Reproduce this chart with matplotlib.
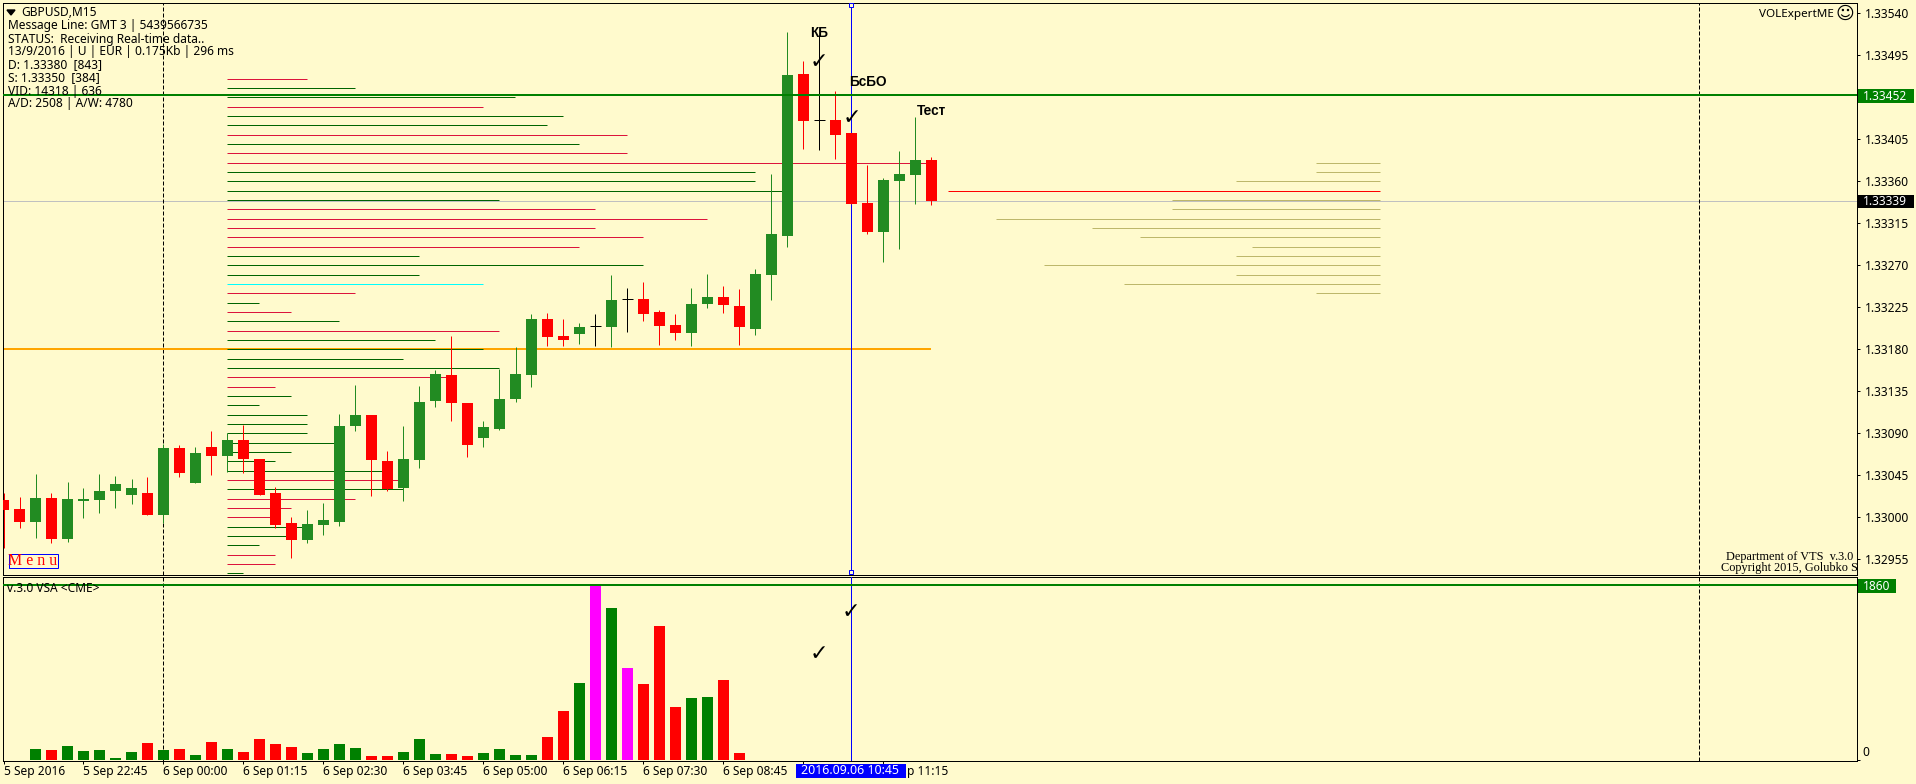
import matplotlib
matplotlib.use("Agg")
import matplotlib.pyplot as plt
from matplotlib.patches import Rectangle, Polygon

W, H = 1916, 784
BG = "#FFFACD"
UI = "Noto Sans"

# ---- candles (M15 GBPUSD), oldest first
opens = [1.33019,1.33009,1.32995,1.33021,1.32977,1.33018,1.33019,1.33028,1.33024,1.33026,
         1.33003,1.33074,1.33037,1.33075,1.33066,1.33083,1.33063,1.33026,1.32994,1.32976,
         1.32992,1.32995,1.33098,1.33110,1.33060,1.33031,1.33061,1.33125,1.33153,1.33123,
         1.33085,1.33095,1.33127,1.33152,1.33212,1.33194,1.33196,1.33205,1.33204,1.33234,
         1.33234,1.33220,1.33206,1.33197,1.33229,1.33236,1.33226,1.33202,1.33260,1.33301,
         1.33475,1.33426,1.33426,1.33412,1.33337,1.33306,1.33360,1.33367,1.33383]
closes = [1.33008,1.32995,1.33021,1.32977,1.33020,1.33020,1.33028,1.33036,1.33031,1.33003,
          1.33074,1.33047,1.33069,1.33066,1.33083,1.33062,1.33024,1.32992,1.32976,1.32993,
          1.32997,1.33098,1.33110,1.33061,1.33030,1.33062,1.33124,1.33154,1.33123,1.33078,
          1.33097,1.33127,1.33154,1.33213,1.33193,1.33190,1.33204,1.33205,1.33233,1.33234,
          1.33218,1.33205,1.33198,1.33229,1.33236,1.33227,1.33204,1.33261,1.33304,1.33474,
          1.33425,1.33426,1.33410,1.33336,1.33306,1.33361,1.33368,1.33383,1.33339]
highs = [1.33026,1.33022,1.33046,1.33026,1.33038,1.33031,1.33046,1.33044,1.33041,1.33043,
         1.33079,1.33077,1.33075,1.33092,1.33090,1.33099,1.33063,1.33032,1.33000,1.33008,
         1.33015,1.33111,1.33142,1.33110,1.33071,1.33098,1.33141,1.33158,1.33194,1.33123,
         1.33103,1.33159,1.33183,1.33218,1.33219,1.33212,1.33208,1.33218,1.33260,1.33246,
         1.33252,1.33222,1.33218,1.33246,1.33261,1.33248,1.33245,1.33266,1.33368,1.33520,
         1.33489,1.33517,1.33457,1.33412,1.33378,1.33364,1.33393,1.33429,1.33386]
lows = [1.32967,1.32989,1.32978,1.32973,1.32974,1.32999,1.33005,1.33010,1.33014,1.33002,
        1.32994,1.33043,1.33037,1.33045,1.33049,1.33048,1.33024,1.32989,1.32956,1.32972,
        1.32981,1.32991,1.33092,1.33023,1.33028,1.33017,1.33053,1.33118,1.33103,1.33065,
        1.33075,1.33094,1.33124,1.33140,1.33184,1.33184,1.33186,1.33184,1.33183,1.33199,
        1.33210,1.33185,1.33190,1.33184,1.33224,1.33219,1.33185,1.33195,1.33233,1.33290,
        1.33395,1.33394,1.33384,1.33336,1.33304,1.33274,1.33288,1.33336,1.33335]

# ---- volume pane (starts at bar 2)
volumes = [110,100,142,89,100,14,78,174,100,110,46,185,110,78,217,164,132,68,110,164,121,
           36,36,78,217,57,57,36,68,110,46,46,238,516,815,1860,1615,975,804,1423,558,654,665,847,68]
vol_colors = ["g","r","g","g","g","g","g","r","g","r","g","r","g","r","r","r","r","g","g","g","g",
              "r","r","g","g","g","r","r","g","g","g","g","r","r","g","m","g","m","r","r","r","g","g","r","r"]

# ---- left volume profile: price level, length in bars, colour
prof_prices = [1.33470,1.33460,1.33450,1.33440,1.33430,1.33420,1.33410,1.33400,1.33390,1.33380,
               1.33370,1.33360,1.33350,1.33340,1.33330,1.33320,1.33310,1.33300,1.33290,1.33280,
               1.33270,1.33260,1.33250,1.33240,1.33230,1.33220,1.33210,1.33200,1.33190,1.33180,
               1.33170,1.33160,1.33150,1.33140,1.33130,1.33120,1.33110,1.33100,1.33090,1.33080,
               1.33070,1.33060,1.33050,1.33040,1.33030,1.33020,1.33010,1.33000,1.32990,1.32980,
               1.32970,1.32960,1.32950,1.32940]
prof_len = [5,8,18,16,21,20,25,22,25,44,33,33,35,17,23,30,23,26,22,12,26,12,16,8,
            2,4,7,17,13,16,11,17,14,3,4,2,5,5,5,7,4,3,10,11,11,8,4,3,5,4,2,3,3,1]
prof_col = ["r","g","g","r","g","g","r","g","r","r","g","g","g","g","r","r","r","r","r","g","g","g","c","r",
            "g","r","g","r","g","g","g","g","r","r","g","g","g","g","g","g","g","g","g","r","g","r","r","r","g","g","g","r","r","g"]

# ---- right profile
rprof_prices = [1.33380,1.33370,1.33360,1.33350,1.33340,1.33330,1.33320,1.33310,
                1.33300,1.33290,1.33280,1.33270,1.33260,1.33250,1.33240]
rprof_len = [4,4,9,27,13,13,24,18,15,8,9,21,9,16,4]
rprof_col = ["k","k","k","R","k","k","k","k","k","k","k","k","k","k","k"]

price_ticks = [1.33540,1.33495,1.33450,1.33405,1.33360,1.33315,1.33270,1.33225,1.33180,
               1.33135,1.33090,1.33045,1.33000,1.32955]
price_labels = ["1.33540","1.33495","","1.33405","1.33360","1.33315","1.33270","1.33225","1.33180",
                "1.33135","1.33090","1.33045","1.33000","1.32955"]
time_labels = ["5 Sep 2016","5 Sep 22:45","6 Sep 00:00","6 Sep 01:15","6 Sep 02:30","6 Sep 03:45",
               "6 Sep 05:00","6 Sep 06:15","6 Sep 07:30","6 Sep 08:45","",""]
info_lines = ["Message Line: GMT 3 | 5439566735","STATUS:  Receiving Real-time data..",
              "13/9/2016 | U | EUR | 0.175Kb | 296 ms","D: 1.33380  [843]","S: 1.33350  [384]",
              "VID: 14318 | 636","A/D: 2508 | A/W: 4780"]
resistance, current, support, vol_level = 1.33452, 1.33339, 1.33180, 1860
selected_bar = 53
dashed_bars = [10, 106]

PROF = {"r": "#DC143C", "g": "#006400", "c": "#00FFFF"}
RP = {"k": "#BDB76B", "R": "#FF0000"}
VC = {"r": "#FF0000", "g": "#008000", "m": "#FF00FF"}
UP, DOWN = "#228B22", "#FF0000"
LW = 0.72  # one screen pixel

fig = plt.figure(figsize=(W/100, H/100), dpi=100, facecolor=BG)
def box(l, t, r, b):
    return [l/W, 1-b/H, (r-l)/W, (b-t)/H]
L, Rgt = 2.5, 1856.5
ax = fig.add_axes(box(L, 2.5, Rgt, 574.5), facecolor=BG)
sub = fig.add_axes(box(L, 576.5, Rgt, 760.5), facecolor=BG)
xlim = ((L-3.5)/16, (Rgt-3.5)/16)
ax.set_xlim(*xlim); sub.set_xlim(*xlim)
PER_PX = 1.0714e-5      # price per pixel
Y0 = 13.35              # pixel row of the 1.33540 tick
ax.set_ylim(1.33540-(574.5-Y0)*PER_PX, 1.33540+(Y0-2.5)*PER_PX)
VOL_PER_PX = 1/0.0937
sub.set_ylim(-1*VOL_PER_PX, (759.5-576.5)*VOL_PER_PX)
for a in (ax, sub):
    for s in a.spines.values():
        s.set_linewidth(LW); s.set_color("black")

# profiles beneath the candles
ax.hlines(prof_prices, 13.97, [13.97+v for v in prof_len], colors=[PROF[c] for c in prof_col],
          linewidth=LW, zorder=2, snap=True)
rend = 86.03
ax.hlines(rprof_prices, [rend-v for v in rprof_len], rend, colors=[RP[c] for c in rprof_col],
          linewidth=LW, zorder=2, snap=True)

# reference lines
ax.axhline(current, color="#C0C0C0", linewidth=LW, zorder=1.5, snap=True)
ax.hlines(support, 0, 57.95, color="#FFA500", linewidth=1.44, zorder=1.8, snap=True)
ax.axhline(resistance, color="#008000", linewidth=1.44, zorder=6, snap=True)
sub.axhline(vol_level, color="#008000", linewidth=1.44, zorder=6, snap=True)
for a in (ax, sub):
    a.axvline(selected_bar, color="#0000FF", linewidth=LW, zorder=3, snap=True)
    for d in dashed_bars:
        a.axvline(d, color="black", linewidth=LW, linestyle=(0, (4, 2)), zorder=1.7, snap=True)

# candles
bars = range(len(opens))
for i, o, h, l, c in zip(bars, opens, highs, lows, closes):
    col = UP if c > o else DOWN if c < o else "black"
    ax.vlines(i, l, h, color=col, linewidth=LW, zorder=4, snap=True)
    if c == o:
        ax.hlines(c, i-0.34, i+0.34, color="black", linewidth=LW, zorder=4, snap=True)
    else:
        ax.bar(i, abs(c-o), bottom=min(o, c), width=0.6875, color=col, linewidth=0, zorder=5)

# volumes
sub.bar([i+2 for i in range(len(volumes))], volumes, width=0.6875,
        color=[VC[c] for c in vol_colors], linewidth=0, zorder=3)

# axes
ax.set_xticks([])
ax.yaxis.tick_right()
ax.set_yticks(price_ticks)
ax.set_yticklabels(price_labels, family=UI, fontsize=8.6)
ax.tick_params(axis="y", length=2.2, width=LW, pad=3.8, colors="black")
sub.yaxis.tick_right()
sub.set_yticks([0]); sub.set_yticklabels(["0"], family=UI, fontsize=8.6, va="bottom")
sub.tick_params(axis="y", length=2.2, width=LW, pad=1.8)
sub.set_xticks([5*i for i in range(len(time_labels))])
sub.set_xticklabels(time_labels, family=UI, fontsize=8.6, ha="left")
sub.tick_params(axis="x", length=2.2, width=LW, pad=1.2)

def T(x, y, s, **kw):
    kw.setdefault("family", UI); kw.setdefault("fontsize", 8.6)
    kw.setdefault("va", "center"); kw.setdefault("ha", "left"); kw.setdefault("color", "black")
    kw.setdefault("zorder", 10)
    return fig.text(x/W, 1-y/H, s, **kw)
def R(l, t, r, b, **kw):
    p = Rectangle((l/W, 1-b/H), (r-l)/W, (b-t)/H, transform=fig.transFigure, zorder=9, **kw)
    fig.add_artist(p)

# header
T(21, 12, "GBPUSD,M15")
fig.add_artist(Polygon([(7/W, 1-10/H), (15/W, 1-10/H), (11/W, 1-15/H)], transform=fig.transFigure,
                       color="black", zorder=10))
for y, s in zip([26, 39, 52, 65, 78, 91, 104], info_lines):
    T(8, y, s)
T(1759, 14, "VOLExpertME", fontsize=8.4)
T(1845, 13.5, "\u263A", family="DejaVu Sans", fontsize=13, ha="center")

# menu
R(9, 554, 57.5, 568, facecolor=BG, edgecolor="#0000FF", linewidth=LW)
T(33, 561, "M e n u", family="Liberation Serif", fontsize=11.5, color="#FF0000", ha="center")

# copyright
for x, y, s in [(1726, 557, "Department of VTS  v.3.0 |"), (1721, 568, "Copyright 2015, Golubko S")]:
    t = T(x, y, s, family="Liberation Serif", fontsize=8.8, zorder=8)
    t.set_clip_box(ax.bbox); t.set_clip_on(True)

T(7, 588, "v.3.0 VSA <CME>")

# annotations
T(819, 33, "КБ", family="Liberation Sans", weight="bold", fontsize=9.8, ha="center")
T(849, 82, "БсБО", family="Liberation Sans", weight="bold", fontsize=9.8)
T(917, 111, "Тест", family="Liberation Sans", weight="bold", fontsize=9.8)
for x, y in [(819, 62), (852, 118), (851, 612), (819, 654)]:
    T(x, y, "\u2713", family="DejaVu Sans", fontsize=16, ha="center", weight="bold")

# selected-line handles
for y in (5, 572):
    R(849, y-2, 853, y+2, facecolor=BG, edgecolor="#0000FF", linewidth=LW)

# price tags
R(1858, 89, 1914, 103, facecolor="#008000", edgecolor="none")
T(1863, 96, f"{resistance:.5f}", color="white")
R(1858, 195, 1914, 208, facecolor="black", edgecolor="none")
T(1863, 201.5, f"{current:.5f}", color="white")
R(1858, 579, 1896, 593, facecolor="#008000", edgecolor="none")
T(1863, 586, f"{vol_level}", color="white")
R(796, 764, 906, 778, facecolor="#0000FF", edgecolor="none")
T(801, 771, "2016.09.06 10:45", color="white", fontsize=8.9)
T(907, 771.5, "p 11:15")

fig.savefig("out.png", dpi=100, facecolor=BG)
